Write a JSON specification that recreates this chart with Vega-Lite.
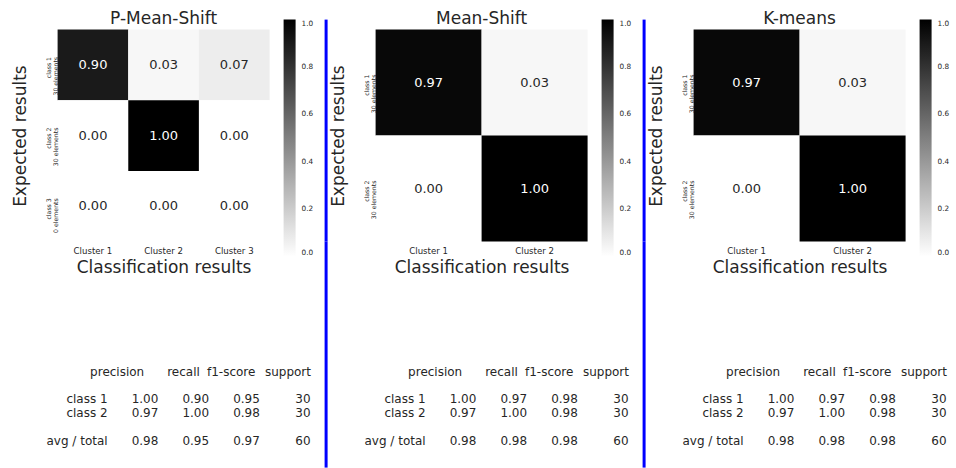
{
  "$schema": "https://vega.github.io/schema/vega-lite/v6.json",
  "padding": {"left": 11.6, "top": 9.6, "right": 0, "bottom": 0},
  "config": {
    "font": "DejaVu Sans",
    "view": {"stroke": null},
    "axis": {"domain": false, "ticks": false, "grid": false, "labelColor": "#262626", "titleColor": "#262626", "titleFontWeight": "normal"},
    "title": {"color": "#262626", "fontWeight": "normal", "fontSize": 17},
    "text": {"color": "#262626"}
  },
  "columns": 5,
  "align": "each",
  "bounds": "flush",
  "spacing": {"row": 0, "column": 20},
  "resolve": {"scale": {"color": "independent"}, "legend": {"color": "independent"}},
  "concat": [
    {
      "width": 212, "height": 222,
      "title": {"text": "P-Mean-Shift", "frame": "group", "offset": -8.6},
      "data": {"values": [
        {"expected": "class 1\n30 elements", "predicted": "Cluster 1", "value": 0.90},
        {"expected": "class 1\n30 elements", "predicted": "Cluster 2", "value": 0.03},
        {"expected": "class 1\n30 elements", "predicted": "Cluster 3", "value": 0.07},
        {"expected": "class 2\n30 elements", "predicted": "Cluster 1", "value": 0.00},
        {"expected": "class 2\n30 elements", "predicted": "Cluster 2", "value": 1.00},
        {"expected": "class 2\n30 elements", "predicted": "Cluster 3", "value": 0.00},
        {"expected": "class 3\n0 elements", "predicted": "Cluster 1", "value": 0.00},
        {"expected": "class 3\n0 elements", "predicted": "Cluster 2", "value": 0.00},
        {"expected": "class 3\n0 elements", "predicted": "Cluster 3", "value": 0.00}
      ]},
      "encoding": {
        "x": {"field": "predicted", "type": "nominal", "sort": null, "scale": {"paddingInner": 0, "paddingOuter": 0},
              "axis": {"title": "Classification results", "orient": "bottom", "labelAngle": 0, "labelFontSize": 8.6, "labelPadding": 5, "titleFontSize": 17, "titlePadding": 4}},
        "y": {"field": "expected", "type": "nominal", "sort": null, "scale": {"paddingInner": 0, "paddingOuter": 0.0708, "align": 1},
              "axis": {"title": "Expected results", "labelAngle": 270, "labelAlign": "right", "labelOffset": -8, "labelExpr": "split(datum.label, '\\n')", "labelFontSize": 6.2, "labelLineHeight": 7, "labelPadding": 6, "titleFontSize": 17, "titlePadding": 16, "titleY": 116}}
      },
      "layer": [
        {"mark": {"type": "rect"},
         "encoding": {"color": {"field": "value", "type": "quantitative",
           "scale": {"domain": [0, 1], "range": ["#ffffff", "#000000"], "interpolate": "rgb"},
           "legend": {"title": null, "orient": "right", "offset": 14, "padding": 0, "direction": "vertical", "gradientLength": 237, "gradientThickness": 12, "gradientStrokeWidth": 0, "values": [0, 0.2, 0.4, 0.6, 0.8, 1], "format": ".1f", "labelFontSize": 7.3, "labelOffset": 6, "labelColor": "#262626", "labelOverlap": false, "labelBaseline": "middle"}}}},
        {"mark": {"type": "text", "fontSize": 13},
         "encoding": {"text": {"field": "value", "type": "quantitative", "format": ".2f"},
           "color": {"condition": {"test": "datum.value > 0.5", "value": "#ffffff"}, "value": "#262626"}}}
      ]
    },
    {
      "width": 66, "height": 222,
      "data": {"values": [{}]},
      "mark": {"type": "rule", "color": "#0000ff", "strokeWidth": 3},
      "encoding": {"x": {"datum": 0.553, "type": "quantitative", "scale": {"domain": [0, 1]}, "axis": null}}
    },
    {
      "width": 212, "height": 222,
      "title": {"text": "Mean-Shift", "frame": "group", "offset": -8.6},
      "data": {"values": [
        {"expected": "class 1\n30 elements", "predicted": "Cluster 1", "value": 0.97},
        {"expected": "class 1\n30 elements", "predicted": "Cluster 2", "value": 0.03},
        {"expected": "class 2\n30 elements", "predicted": "Cluster 1", "value": 0.00},
        {"expected": "class 2\n30 elements", "predicted": "Cluster 2", "value": 1.00}
      ]},
      "encoding": {
        "x": {"field": "predicted", "type": "nominal", "sort": null, "scale": {"paddingInner": 0, "paddingOuter": 0},
              "axis": {"title": "Classification results", "orient": "bottom", "labelAngle": 0, "labelFontSize": 8.6, "labelPadding": 5, "titleFontSize": 17, "titlePadding": 4}},
        "y": {"field": "expected", "type": "nominal", "sort": null, "scale": {"paddingInner": 0, "paddingOuter": 0.0472, "align": 1},
              "axis": {"title": "Expected results", "labelAngle": 270, "labelAlign": "right", "labelOffset": -8, "labelExpr": "split(datum.label, '\\n')", "labelFontSize": 6.2, "labelLineHeight": 7, "labelPadding": 6, "titleFontSize": 17, "titlePadding": 16, "titleY": 116}}
      },
      "layer": [
        {"mark": {"type": "rect"},
         "encoding": {"color": {"field": "value", "type": "quantitative",
           "scale": {"domain": [0, 1], "range": ["#ffffff", "#000000"], "interpolate": "rgb"},
           "legend": {"title": null, "orient": "right", "offset": 14, "padding": 0, "direction": "vertical", "gradientLength": 237, "gradientThickness": 12, "gradientStrokeWidth": 0, "values": [0, 0.2, 0.4, 0.6, 0.8, 1], "format": ".1f", "labelFontSize": 7.3, "labelOffset": 6, "labelColor": "#262626", "labelOverlap": false, "labelBaseline": "middle"}}}},
        {"mark": {"type": "text", "fontSize": 13},
         "encoding": {"text": {"field": "value", "type": "quantitative", "format": ".2f"},
           "color": {"condition": {"test": "datum.value > 0.5", "value": "#ffffff"}, "value": "#262626"}}}
      ]
    },
    {
      "width": 66, "height": 222,
      "data": {"values": [{}]},
      "mark": {"type": "rule", "color": "#0000ff", "strokeWidth": 3},
      "encoding": {"x": {"datum": 0.553, "type": "quantitative", "scale": {"domain": [0, 1]}, "axis": null}}
    },
    {
      "width": 212, "height": 222,
      "title": {"text": "K-means", "frame": "group", "offset": -8.6},
      "data": {"values": [
        {"expected": "class 1\n30 elements", "predicted": "Cluster 1", "value": 0.97},
        {"expected": "class 1\n30 elements", "predicted": "Cluster 2", "value": 0.03},
        {"expected": "class 2\n30 elements", "predicted": "Cluster 1", "value": 0.00},
        {"expected": "class 2\n30 elements", "predicted": "Cluster 2", "value": 1.00}
      ]},
      "encoding": {
        "x": {"field": "predicted", "type": "nominal", "sort": null, "scale": {"paddingInner": 0, "paddingOuter": 0},
              "axis": {"title": "Classification results", "orient": "bottom", "labelAngle": 0, "labelFontSize": 8.6, "labelPadding": 5, "titleFontSize": 17, "titlePadding": 4}},
        "y": {"field": "expected", "type": "nominal", "sort": null, "scale": {"paddingInner": 0, "paddingOuter": 0.0472, "align": 1},
              "axis": {"title": "Expected results", "labelAngle": 270, "labelAlign": "right", "labelOffset": -8, "labelExpr": "split(datum.label, '\\n')", "labelFontSize": 6.2, "labelLineHeight": 7, "labelPadding": 6, "titleFontSize": 17, "titlePadding": 16, "titleY": 116}}
      },
      "layer": [
        {"mark": {"type": "rect"},
         "encoding": {"color": {"field": "value", "type": "quantitative",
           "scale": {"domain": [0, 1], "range": ["#ffffff", "#000000"], "interpolate": "rgb"},
           "legend": {"title": null, "orient": "right", "offset": 14, "padding": 0, "direction": "vertical", "gradientLength": 237, "gradientThickness": 12, "gradientStrokeWidth": 0, "values": [0, 0.2, 0.4, 0.6, 0.8, 1], "format": ".1f", "labelFontSize": 7.3, "labelOffset": 6, "labelColor": "#262626", "labelOverlap": false, "labelBaseline": "middle"}}}},
        {"mark": {"type": "text", "fontSize": 13},
         "encoding": {"text": {"field": "value", "type": "quantitative", "format": ".2f"},
           "color": {"condition": {"test": "datum.value > 0.5", "value": "#ffffff"}, "value": "#262626"}}}
      ]
    },
    {
      "width": 212, "height": 226,
      "data": {"values": [
        {"row": "class 1", "precision": 1.00, "recall": 0.90, "f1-score": 0.95, "support": 30},
        {"row": "class 2", "precision": 0.97, "recall": 1.00, "f1-score": 0.98, "support": 30},
        {"row": "avg / total", "precision": 0.98, "recall": 0.95, "f1-score": 0.97, "support": 60}
      ]},
      "resolve": {"scale": {"x": "independent"}},
      "layer": [
        {"mark": {"type": "text", "align": "right", "fontSize": 12},
         "encoding": {
           "x": {"datum": "label", "type": "nominal", "scale": {"type": "point", "domain": ["label", "precision", "recall", "f1-score", "support"], "range": [50, 253], "padding": 0}, "axis": null},
           "y": {"field": "row", "type": "nominal", "scale": {"type": "point", "domain": ["header", "gap1", "class 1", "class 2", "gap2", "avg / total"], "range": [130, 199], "padding": 0}, "axis": null},
           "text": {"field": "row"}}},
        {"transform": [{"fold": ["precision", "recall", "f1-score"], "as": ["metric", "score"]}],
         "mark": {"type": "text", "align": "right", "fontSize": 12},
         "encoding": {
           "x": {"field": "metric", "type": "nominal", "scale": {"type": "point", "domain": ["label", "precision", "recall", "f1-score", "support"], "range": [50, 253], "padding": 0}, "axis": null},
           "y": {"field": "row", "type": "nominal", "axis": null},
           "text": {"field": "score", "type": "quantitative", "format": ".2f"}}},
        {"mark": {"type": "text", "align": "right", "fontSize": 12},
         "encoding": {
           "x": {"datum": "support", "type": "nominal", "scale": {"type": "point", "domain": ["label", "precision", "recall", "f1-score", "support"], "range": [50, 253], "padding": 0}, "axis": null},
           "y": {"field": "row", "type": "nominal", "axis": null},
           "text": {"field": "support", "type": "quantitative", "format": "d"}}},
        {"transform": [{"filter": "datum.row == 'class 1'"}, {"fold": ["precision", "recall", "f1-score", "support"], "as": ["metric", "score"]}],
         "mark": {"type": "text", "align": "right", "fontSize": 12},
         "encoding": {
           "x": {"field": "metric", "type": "nominal", "scale": {"type": "point", "domain": ["precision", "recall", "f1-score", "support"], "range": [86.6, 253.4], "padding": 0}, "axis": null},
           "y": {"datum": "header", "type": "nominal", "axis": null},
           "text": {"field": "metric"}}}
      ]
    },
    {
      "width": 66, "height": 226,
      "data": {"values": [{}]},
      "mark": {"type": "rule", "color": "#0000ff", "strokeWidth": 3},
      "encoding": {"x": {"datum": 0.553, "type": "quantitative", "scale": {"domain": [0, 1]}, "axis": null}}
    },
    {
      "width": 212, "height": 226,
      "data": {"values": [
        {"row": "class 1", "precision": 1.00, "recall": 0.97, "f1-score": 0.98, "support": 30},
        {"row": "class 2", "precision": 0.97, "recall": 1.00, "f1-score": 0.98, "support": 30},
        {"row": "avg / total", "precision": 0.98, "recall": 0.98, "f1-score": 0.98, "support": 60}
      ]},
      "resolve": {"scale": {"x": "independent"}},
      "layer": [
        {"mark": {"type": "text", "align": "right", "fontSize": 12},
         "encoding": {
           "x": {"datum": "label", "type": "nominal", "scale": {"type": "point", "domain": ["label", "precision", "recall", "f1-score", "support"], "range": [50, 253], "padding": 0}, "axis": null},
           "y": {"field": "row", "type": "nominal", "scale": {"type": "point", "domain": ["header", "gap1", "class 1", "class 2", "gap2", "avg / total"], "range": [130, 199], "padding": 0}, "axis": null},
           "text": {"field": "row"}}},
        {"transform": [{"fold": ["precision", "recall", "f1-score"], "as": ["metric", "score"]}],
         "mark": {"type": "text", "align": "right", "fontSize": 12},
         "encoding": {
           "x": {"field": "metric", "type": "nominal", "scale": {"type": "point", "domain": ["label", "precision", "recall", "f1-score", "support"], "range": [50, 253], "padding": 0}, "axis": null},
           "y": {"field": "row", "type": "nominal", "axis": null},
           "text": {"field": "score", "type": "quantitative", "format": ".2f"}}},
        {"mark": {"type": "text", "align": "right", "fontSize": 12},
         "encoding": {
           "x": {"datum": "support", "type": "nominal", "scale": {"type": "point", "domain": ["label", "precision", "recall", "f1-score", "support"], "range": [50, 253], "padding": 0}, "axis": null},
           "y": {"field": "row", "type": "nominal", "axis": null},
           "text": {"field": "support", "type": "quantitative", "format": "d"}}},
        {"transform": [{"filter": "datum.row == 'class 1'"}, {"fold": ["precision", "recall", "f1-score", "support"], "as": ["metric", "score"]}],
         "mark": {"type": "text", "align": "right", "fontSize": 12},
         "encoding": {
           "x": {"field": "metric", "type": "nominal", "scale": {"type": "point", "domain": ["precision", "recall", "f1-score", "support"], "range": [86.6, 253.4], "padding": 0}, "axis": null},
           "y": {"datum": "header", "type": "nominal", "axis": null},
           "text": {"field": "metric"}}}
      ]
    },
    {
      "width": 66, "height": 226,
      "data": {"values": [{}]},
      "mark": {"type": "rule", "color": "#0000ff", "strokeWidth": 3},
      "encoding": {"x": {"datum": 0.553, "type": "quantitative", "scale": {"domain": [0, 1]}, "axis": null}}
    },
    {
      "width": 212, "height": 226,
      "data": {"values": [
        {"row": "class 1", "precision": 1.00, "recall": 0.97, "f1-score": 0.98, "support": 30},
        {"row": "class 2", "precision": 0.97, "recall": 1.00, "f1-score": 0.98, "support": 30},
        {"row": "avg / total", "precision": 0.98, "recall": 0.98, "f1-score": 0.98, "support": 60}
      ]},
      "resolve": {"scale": {"x": "independent"}},
      "layer": [
        {"mark": {"type": "text", "align": "right", "fontSize": 12},
         "encoding": {
           "x": {"datum": "label", "type": "nominal", "scale": {"type": "point", "domain": ["label", "precision", "recall", "f1-score", "support"], "range": [50, 253], "padding": 0}, "axis": null},
           "y": {"field": "row", "type": "nominal", "scale": {"type": "point", "domain": ["header", "gap1", "class 1", "class 2", "gap2", "avg / total"], "range": [130, 199], "padding": 0}, "axis": null},
           "text": {"field": "row"}}},
        {"transform": [{"fold": ["precision", "recall", "f1-score"], "as": ["metric", "score"]}],
         "mark": {"type": "text", "align": "right", "fontSize": 12},
         "encoding": {
           "x": {"field": "metric", "type": "nominal", "scale": {"type": "point", "domain": ["label", "precision", "recall", "f1-score", "support"], "range": [50, 253], "padding": 0}, "axis": null},
           "y": {"field": "row", "type": "nominal", "axis": null},
           "text": {"field": "score", "type": "quantitative", "format": ".2f"}}},
        {"mark": {"type": "text", "align": "right", "fontSize": 12},
         "encoding": {
           "x": {"datum": "support", "type": "nominal", "scale": {"type": "point", "domain": ["label", "precision", "recall", "f1-score", "support"], "range": [50, 253], "padding": 0}, "axis": null},
           "y": {"field": "row", "type": "nominal", "axis": null},
           "text": {"field": "support", "type": "quantitative", "format": "d"}}},
        {"transform": [{"filter": "datum.row == 'class 1'"}, {"fold": ["precision", "recall", "f1-score", "support"], "as": ["metric", "score"]}],
         "mark": {"type": "text", "align": "right", "fontSize": 12},
         "encoding": {
           "x": {"field": "metric", "type": "nominal", "scale": {"type": "point", "domain": ["precision", "recall", "f1-score", "support"], "range": [86.6, 253.4], "padding": 0}, "axis": null},
           "y": {"datum": "header", "type": "nominal", "axis": null},
           "text": {"field": "metric"}}}
      ]
    }
  ]
}
